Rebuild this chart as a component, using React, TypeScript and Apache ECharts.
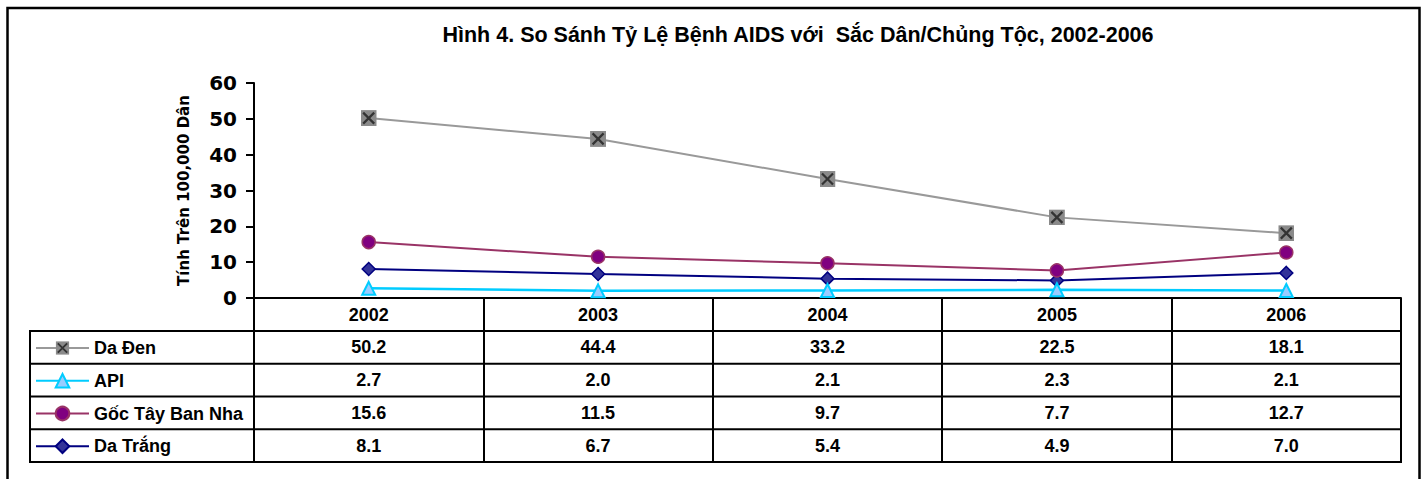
import React, { useEffect, useRef } from "react";
import * as echarts from "echarts";

const years = ["2002", "2003", "2004", "2005", "2006"];
const seriesNames = ["Da Đen", "API", "Gốc Tây Ban Nha", "Da Trắng"];
const blackRates = [50.2, 44.4, 33.2, 22.5, 18.1];
const apiRates = [2.7, 2.0, 2.1, 2.3, 2.1];
const hispanicRates = [15.6, 11.5, 9.7, 7.7, 12.7];
const whiteRates = [8.1, 6.7, 5.4, 4.9, 7.0];
const yMin = 0;
const yMax = 60;
const yStep = 10;
const titleText = "Hình 4. So Sánh Tỷ Lệ Bệnh AIDS với  Sắc Dân/Chủng Tộc, 2002-2006";
const yAxisTitle = "Tính Trên 100,000 Dân";

const ARIAL = "'Liberation Sans', Arial, Helvetica, sans-serif";
const VERDANA = "'DejaVu Sans', Verdana, sans-serif";

const squareX =
  "image://data:image/svg+xml;utf8," +
  encodeURIComponent(
    "<svg xmlns='http://www.w3.org/2000/svg' width='16' height='16' viewBox='0 0 16 16'>" +
      "<rect x='0' y='0' width='16' height='16' fill='#8a8a8a'/>" +
      "<path d='M2.5 2.5L13.5 13.5M13.5 2.5L2.5 13.5' stroke='#333333' stroke-width='2.2' fill='none'/>" +
      "</svg>"
  );

export default function App() {
  const ref = useRef<HTMLDivElement>(null);

  useEffect(() => {
    const chart = echarts.init(ref.current!, null, { renderer: "svg" });
    const dataSets = [blackRates, apiRates, hispanicRates, whiteRates];

    const seriesStyles = [
      {
        symbol: squareX,
        symbolSize: 16,
        lineStyle: { color: "#999999", width: 2 },
        itemStyle: { color: "#8a8a8a" },
      },
      {
        symbol: "triangle",
        symbolSize: 13,
        lineStyle: { color: "#00ccff", width: 2.5 },
        itemStyle: { color: "#99ccff", borderColor: "#00ccff", borderWidth: 2 },
      },
      {
        symbol: "circle",
        symbolSize: 13,
        lineStyle: { color: "#993366", width: 2 },
        itemStyle: { color: "#800080", borderColor: "#993366", borderWidth: 1.5 },
      },
      {
        symbol: "diamond",
        symbolSize: 13,
        lineStyle: { color: "#000080", width: 2 },
        itemStyle: { color: "#333399", borderColor: "#000080", borderWidth: 1.5 },
      },
    ];

    const series = seriesNames.map((name, i) => ({
      name,
      type: "line",
      data: dataSets[i],
      showSymbol: true,
      z: 10 - i,
      ...seriesStyles[i],
    }));

    chart.setOption({
      animation: false,
      backgroundColor: "#ffffff",
      grid: { left: 254, right: 24, top: 83, bottom: 181, containLabel: false },
      legend: {
        data: seriesNames,
        orient: "vertical",
        left: 35,
        top: 338,
        padding: 0,
        itemWidth: 53,
        itemHeight: 17,
        itemGap: 12.75,
        selectedMode: false,
        textStyle: {
          fontFamily: ARIAL,
          fontWeight: "bold",
          fontSize: 18,
          color: "#000",
          lineHeight: 20,
        },
      },
      xAxis: {
        type: "category",
        data: years,
        boundaryGap: true,
        axisLine: { show: true, lineStyle: { color: "#000", width: 2 } },
        axisTick: { show: true, length: 164, lineStyle: { color: "#000", width: 2 } },
        axisLabel: {
          margin: 8,
          fontFamily: ARIAL,
          fontWeight: "bold",
          fontSize: 18,
          color: "#000",
        },
        splitLine: { show: false },
      },
      yAxis: {
        type: "value",
        min: yMin,
        max: yMax,
        interval: yStep,
        name: yAxisTitle,
        nameLocation: "middle",
        nameRotate: 90,
        nameGap: 63,
        nameTextStyle: {
          fontFamily: VERDANA,
          fontWeight: "bold",
          fontSize: 15,
          color: "#000",
        },
        axisLine: { show: true, lineStyle: { color: "#000", width: 2 } },
        axisTick: { show: true, length: 8, lineStyle: { color: "#000", width: 2 } },
        axisLabel: {
          margin: 17,
          fontFamily: VERDANA,
          fontWeight: "bold",
          fontSize: 20,
          color: "#000",
        },
        splitLine: { show: false },
      },
      series,
    });

    // Build the data table from the data arrays, positioned through the axes' scales.
    const centers = years.map((_, i) => chart.convertToPixel({ xAxisIndex: 0 }, i) as number);
    const band = centers[1] - centers[0];
    const right = centers[centers.length - 1] + band / 2;
    const axisY = chart.convertToPixel({ yAxisIndex: 0 }, yMin) as number;
    const headerH = 33;
    const rowH = 32.75;
    const tableLeft = 30;
    const rowsTop = axisY + headerH;
    const rowsBottom = rowsTop + rowH * seriesNames.length;

    const lineStyle = { stroke: "#000", lineWidth: 2 };
    const elements: any[] = [];

    // outer border
    elements.push({
      type: "rect",
      shape: { x: 7.5, y: 8, width: 1412, height: 500 },
      style: { fill: "none", stroke: "#000", lineWidth: 2.5 },
      silent: true,
    });
    // title
    elements.push({
      type: "text",
      x: 798,
      y: 35,
      style: {
        text: titleText,
        fontFamily: ARIAL,
        fontWeight: "bold",
        fontSize: 21.5,
        fill: "#000",
        align: "center",
        verticalAlign: "middle",
        textAlign: "center",
        textVerticalAlign: "middle",
      },
    });
    // horizontal rules of the data rows
    for (let r = 0; r <= seriesNames.length; r++) {
      const y = rowsTop + r * rowH;
      elements.push({
        type: "line",
        shape: { x1: tableLeft - 1, y1: y, x2: right + 1, y2: y },
        style: lineStyle,
      });
    }
    // left border of the legend column
    elements.push({
      type: "line",
      shape: { x1: tableLeft, y1: rowsTop, x2: tableLeft, y2: rowsBottom },
      style: lineStyle,
    });
    // cell values
    dataSets.forEach((vals, r) => {
      const cy = rowsTop + r * rowH + rowH / 2;
      vals.forEach((v, c) => {
        elements.push({
          type: "text",
          x: centers[c],
          y: cy,
          style: {
            text: v.toFixed(1),
            fontFamily: ARIAL,
            fontWeight: "bold",
            fontSize: 18,
            fill: "#000",
            align: "center",
            verticalAlign: "middle",
            textAlign: "center",
            textVerticalAlign: "middle",
          },
        });
      });
    });

    chart.setOption({ graphic: { elements } });

    return () => {
      chart.dispose();
    };
  }, []);

  return (
    <div
      ref={ref}
      style={{ position: "fixed", left: 0, top: 0, width: 1425, height: 479, background: "#fff" }}
    />
  );
}
